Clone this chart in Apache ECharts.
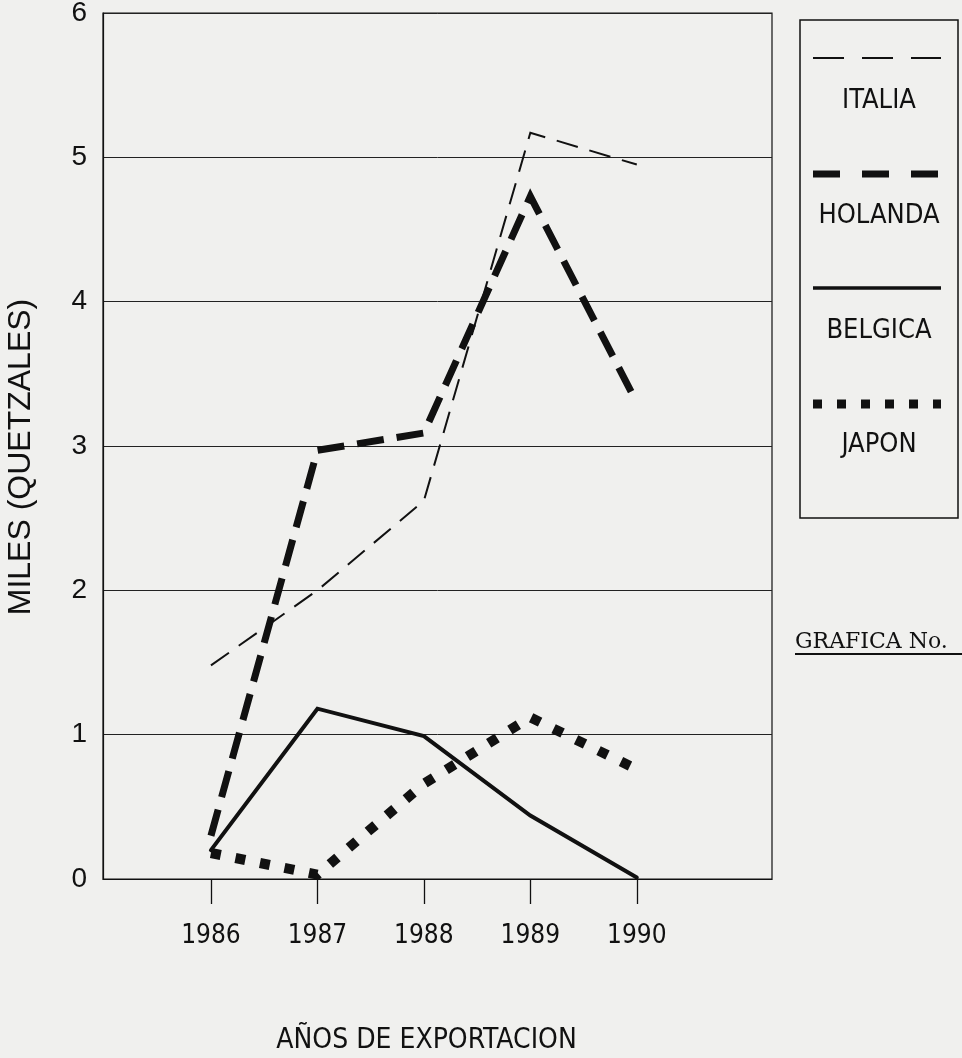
<!DOCTYPE html>
<html>
<head>
<meta charset="utf-8">
<script src="https://cdn.jsdelivr.net/npm/echarts@6/dist/echarts.min.js"></script>
<style>
html,body{margin:0;padding:0;background:#f0f0ee;}
#chart{width:962px;height:1058px;}
</style>
</head>
<body>
<div id="chart"></div>
<script>
// ---- data ----
const years = [1986, 1987, 1988, 1989, 1990];
const seriesNames = ['ITALIA', 'HOLANDA', 'BELGICA', 'JAPON'];
const italia  = [1.48, 2.00, 2.62, 5.17, 4.95];
const holanda = [0.30, 2.97, 3.09, 4.73, 3.30];
const belgica = [0.20, 1.18, 0.99, 0.44, 0.01];
const japon   = [0.18, 0.03, 0.66, 1.12, 0.76];
const yTicks  = [0, 1, 2, 3, 4, 5, 6];
const xTitle = 'AÑOS DE EXPORTACION';
const yTitle = 'MILES (QUETZALES)';
const noteText = 'GRAFICA No.';

const ink = '#111';
const FONT = '"Liberation Sans", Arial, sans-serif';
const NARROW = '"Liberation Sans Narrow", "DejaVu Sans Condensed", "Liberation Sans", sans-serif';

const values = [italia, holanda, belgica, japon];
const styles = [
  { width: 2, type: [22, 12], cap: 'butt' },
  { width: 7, type: [27, 13], cap: 'butt' },
  { width: 4, type: 'solid', cap: 'round' },
  { width: 10, type: [10, 15], cap: 'butt' }
];

const series = seriesNames.map((name, i) => ({
  name: name,
  type: 'line',
  data: years.map((y, j) => [y, values[i][j]]),
  symbol: 'none',
  lineStyle: { color: ink, width: styles[i].width, type: styles[i].type, cap: styles[i].cap, join: 'miter' },
  z: 3 + i
}));

// legend box drawn as graphic (samples + names from arrays)
const legendSampleY = [58, 174, 288, 404];
const legendTextY = [101, 216, 331, 445];
const legendSamples = [
  { dash: [31, 18], w: 2 },
  { dash: [27, 22], w: 7 },
  { dash: null, w: 3.5 },
  { dash: [9, 15], w: 9 }
];
const graphics = [
  { type: 'rect', shape: { x: 800, y: 20, width: 158, height: 498 },
    style: { fill: 'none', stroke: ink, lineWidth: 1.5 } }
];
seriesNames.forEach((n, i) => {
  graphics.push({ type: 'line', shape: { x1: 813, y1: legendSampleY[i], x2: 941, y2: legendSampleY[i] },
    style: { stroke: ink, lineWidth: legendSamples[i].w, lineDash: legendSamples[i].dash, lineCap: 'butt' } });
  graphics.push({ type: 'text', x: 879, y: legendTextY[i],
    style: { text: n, font: '27px ' + NARROW, fill: ink, textAlign: 'center', textVerticalAlign: 'middle' } });
});
graphics.push({ type: 'text', x: 795, y: 642,
  style: { text: noteText, font: '22px "DejaVu Serif", "Liberation Serif", serif', fill: ink, textAlign: 'left', textVerticalAlign: 'middle' } });
graphics.push({ type: 'line', shape: { x1: 795, y1: 654, x2: 962, y2: 654 },
  style: { stroke: ink, lineWidth: 2 } });

const chart = echarts.init(document.getElementById('chart'), null, { renderer: 'canvas' });
chart.setOption({
  backgroundColor: '#f0f0ee',
  animation: false,
  grid: { left: 103, top: 13, right: 190, bottom: 179, containLabel: false, outerBoundsMode: 'none',
          show: true, borderColor: ink, borderWidth: 1.2, backgroundColor: 'transparent' },
  xAxis: {
    type: 'value',
    min: 1984.986, max: 1991.27,
    name: xTitle, nameLocation: 'middle', nameGap: 148,
    nameTextStyle: { color: ink, fontSize: 28, fontFamily: NARROW, padding: [0, 22, 0, 0] },
    axisLine: { show: true, lineStyle: { color: ink, width: 1.2 } },
    axisTick: { show: true, customValues: years, length: 25, lineStyle: { color: ink, width: 1.3 } },
    axisLabel: { customValues: years, color: ink, fontSize: 26, fontFamily: NARROW, margin: 44, formatter: v => String(v) },
    splitLine: { show: false }
  },
  yAxis: {
    type: 'value',
    min: yTicks[0], max: yTicks[yTicks.length - 1], interval: 1,
    name: yTitle, nameLocation: 'middle', nameGap: 66, nameRotate: 90,
    nameTextStyle: { color: ink, fontSize: 32, fontFamily: FONT, padding: [0, 22, 0, 0] },
    axisLine: { show: true, lineStyle: { color: ink, width: 1.2 } },
    axisTick: { show: false },
    axisLabel: { color: ink, fontSize: 28, fontFamily: FONT, margin: 16 },
    splitLine: { show: true, lineStyle: { color: '#222', width: 1 } }
  },
  series: series,
  graphic: graphics
});
</script>
</body>
</html>
